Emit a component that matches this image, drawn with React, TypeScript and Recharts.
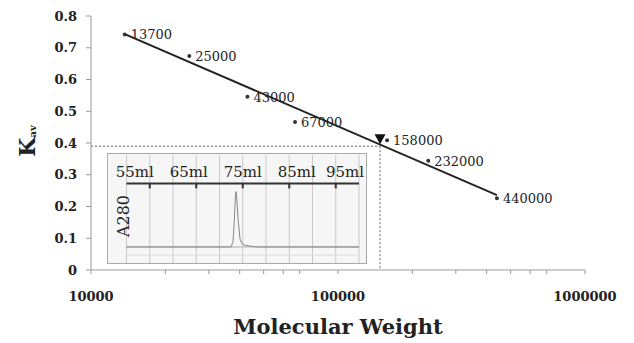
import React from 'react';
import {
  ComposedChart,
  LineChart,
  Line,
  Scatter,
  XAxis,
  YAxis,
  ReferenceLine,
  CartesianGrid,
  Label,
} from 'recharts';

// ---- Main calibration chart data ----
const markerLabels = ['13700', '25000', '43000', '67000', '158000', '232000', '440000'];
const molecularWeights = [13700, 25000, 43000, 67000, 158000, 232000, 440000];
const kavValues = [0.742, 0.674, 0.546, 0.466, 0.409, 0.344, 0.226];

const trendWeights = [13700, 440000];
const trendKav = [0.743, 0.236];

const sampleWeight = 148000;
const sampleKav = 0.39;

const xTicks = [
  10000, 20000, 30000, 40000, 50000, 60000, 70000, 80000, 90000,
  100000, 200000, 300000, 400000, 500000, 600000, 700000, 800000, 900000,
  1000000,
];
const xTickLabels = [10000, 100000, 1000000];
const yTicks = [0, 0.1, 0.2, 0.3, 0.4, 0.5, 0.6, 0.7, 0.8];

// ---- Inset chromatogram data ----
const elutionVolumes = [50, 60, 70, 72.5, 72.9, 73.2, 73.45, 73.55, 73.7, 74.0, 74.4, 74.8, 75.5, 77, 78, 90, 100];
const absorbance = [0, 0, 0, 0, 0.1, 0.5, 0.95, 1.0, 0.9, 0.5, 0.15, 0.06, 0.03, 0.01, 0, 0, 0];
const volumeTicks = [55, 65, 75, 85, 95];
const gridVolumes = [50, 55, 60, 65, 70, 75, 80, 85, 90, 95, 100];

const markers = molecularWeights.map((mw, i) => ({ mw, kav: kavValues[i], name: markerLabels[i] }));
const trend = trendWeights.map((mw, i) => ({ mw, kav: trendKav[i] }));
const sample = [{ mw: sampleWeight, kav: sampleKav }];
const chromatogram = elutionVolumes.map((v, i) => ({ v, a: absorbance[i] }));

const SERIF = '"DejaVu Serif", serif';

const MarkerShape = (props: any) => {
  const { cx, cy, payload } = props;
  if (cx == null || cy == null) return null;
  return (
    <g>
      <circle cx={cx} cy={cy} r={2} fill="#333" />
      <text x={cx + 6} y={cy} dy="0.38em" fontFamily={SERIF} fontSize={13} fill="#222">
        {payload.name}
      </text>
    </g>
  );
};

const TriangleShape = (props: any) => {
  const { cx, cy } = props;
  if (cx == null || cy == null) return null;
  const w = 11;
  const h = 10;
  const tipY = cy - 2;
  return (
    <path
      d={`M${cx - w / 2},${tipY - h} L${cx + w / 2},${tipY - h} L${cx},${tipY} Z`}
      fill="#111"
    />
  );
};

const HeaderTick = (props: any) => {
  const { x, payload } = props;
  const lineY = 29.4;
  const labelX = Math.min(x + (payload.value - 75) * 0.75, 237);
  return (
    <g>
      <line x1={x} x2={x} y1={lineY} y2={lineY + 5} stroke="#333" strokeWidth={2} />
      <text x={labelX} y={22.5} textAnchor="middle" fontFamily={SERIF} fontSize={15} fill="#222">
        {`${payload.value}ml`}
      </text>
    </g>
  );
};

export default function App() {
  return (
    <div style={{ position: 'absolute', left: 0, top: 0, width: 634, height: 343, background: '#fff' }}>
      <ComposedChart
        width={634}
        height={343}
        data={markers}
        margin={{ top: 16, right: 49, left: 0, bottom: 0 }}
      >
        <XAxis
          dataKey="mw"
          type="number"
          scale="log"
          domain={[10000, 1000000]}
          ticks={xTicks}
          allowDataOverflow
          height={73}
          stroke="#999"
          tickSize={4}
          tickMargin={18}
          tickFormatter={(v: number) => (xTickLabels.includes(v) ? String(v) : '')}
          tick={{ fontFamily: SERIF, fontSize: 13, fontWeight: 'bold', fill: '#222' }}
        >
          <Label
            content={() => (
              <text x={338} y={334} textAnchor="middle" fontFamily={SERIF} fontSize={21} fontWeight="bold" fill="#222">
                Molecular Weight
              </text>
            )}
          />
        </XAxis>
        <YAxis
          type="number"
          domain={[0, 0.8]}
          ticks={yTicks}
          width={91}
          stroke="#999"
          tickSize={5}
          tickMargin={9}
          tick={{ fontFamily: SERIF, fontSize: 13, fontWeight: 'bold', fill: '#222' }}
        >
          <Label
            content={() => (
              <text
                x={35}
                y={141}
                transform="rotate(-90, 35, 141)"
                textAnchor="middle"
                fontFamily={SERIF}
                fontWeight="bold"
                fill="#222"
              >
                <tspan fontSize={22}>K</tspan>
                <tspan fontSize={10} dy={1}>av</tspan>
              </text>
            )}
          />
        </YAxis>
        <ReferenceLine
          segment={[{ x: 10000, y: sampleKav }, { x: sampleWeight, y: sampleKav }]}
          stroke="#666"
          strokeDasharray="2 2"
          ifOverflow="visible"
        />
        <ReferenceLine
          segment={[{ x: sampleWeight, y: sampleKav }, { x: sampleWeight, y: 0 }]}
          stroke="#666"
          strokeDasharray="2 2"
          ifOverflow="visible"
        />
        <Line
          data={trend}
          dataKey="kav"
          stroke="#222"
          strokeWidth={2}
          dot={false}
          activeDot={false}
          isAnimationActive={false}
        />
        <Scatter data={markers} dataKey="kav" shape={MarkerShape} isAnimationActive={false} />
        <Scatter data={sample} dataKey="kav" shape={TriangleShape} isAnimationActive={false} />
      </ComposedChart>

      <div
        style={{
          position: 'absolute',
          left: 107,
          top: 153,
          width: 260,
          height: 111,
          background: '#f6f6f6',
          border: '1px solid #aaa',
          boxSizing: 'border-box',
        }}
      >
        <LineChart
          width={258}
          height={109}
          data={chromatogram}
          margin={{ top: 0, right: 7, left: 0, bottom: 0 }}
        >
          <CartesianGrid horizontal={false} verticalValues={gridVolumes} stroke="#c8c8c8" />
          <XAxis
            dataKey="v"
            type="number"
            orientation="top"
            domain={[50, 100]}
            ticks={volumeTicks}
            height={1}
            axisLine={false}
            tickLine={false}
            tick={HeaderTick}
            interval={0}
          />
          <YAxis
            type="number"
            domain={[-0.29, 1.66]}
            width={18.5}
            axisLine={false}
            tickLine={false}
            tick={false}
          >
            <Label
              content={() => (
                <text
                  x={21}
                  y={62}
                  transform="rotate(-90, 21, 62)"
                  textAnchor="middle"
                  fontFamily={SERIF}
                  fontSize={16}
                  fill="#222"
                >
                  A280
                </text>
              )}
            />
          </YAxis>
          <ReferenceLine y={-0.15} stroke="#ddd" />
          <ReferenceLine y={0} stroke="#aaa" />
          <ReferenceLine y={1.147} stroke="#333" strokeWidth={2} />
          <Line
            dataKey="a"
            stroke="#888"
            strokeWidth={1}
            dot={false}
            activeDot={false}
            isAnimationActive={false}
          />
        </LineChart>
      </div>
    </div>
  );
}
